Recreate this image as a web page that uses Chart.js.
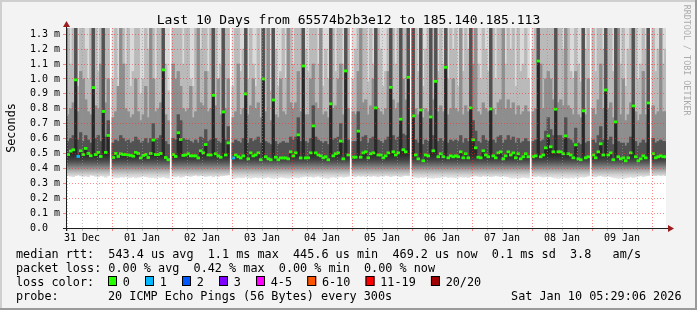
<!DOCTYPE html>
<html><head><meta charset="utf-8">
<script src="https://cdn.jsdelivr.net/npm/chart.js@4.4.1/dist/chart.umd.min.js"></script>
<style>html,body{margin:0;padding:0;background:#f3f3f3;overflow:hidden}canvas{display:block}</style>
</head><body>
<canvas id="c" width="697" height="310" style="width:697px;height:310px"></canvas>
<script>
// ---------- texts ----------
const chartTitle = 'Last 10 Days from 65574b2b3e12 to 185.140.185.113';
const yAxisTitle = 'Seconds';
const watermark = 'RRDTOOL / TOBI OETIKER';
const dayLabels = ['31 Dec','01 Jan','02 Jan','03 Jan','04 Jan','05 Jan','06 Jan','07 Jan','08 Jan','09 Jan'];
const yTickValues = [0,0.1,0.2,0.3,0.4,0.5,0.6,0.7,0.8,0.9,1.0,1.1,1.2,1.3];
const yTickLabels = ['0.0  ','0.1 m','0.2 m','0.3 m','0.4 m','0.5 m','0.6 m','0.7 m','0.8 m','0.9 m','1.0 m','1.1 m','1.2 m','1.3 m'];
const legendRttRow = 'median rtt:  543.4 us avg  1.1 ms max  445.6 us min  469.2 us now  0.1 ms sd  3.8   am/s';
const legendLossRow = 'packet loss: 0.00 % avg  0.42 % max  0.00 % min  0.00 % now';
const legendColorTitle = 'loss color:';
const lossLegendLabels = ['0','1','2','3','4-5','6-10','11-19','20/20'];
const lossLegendColors = ['#26ff00','#00b8ff','#0059ff','#7e00ff','#ff00ff','#ff5500','#ff0000','#a10000'];
const probeTitle = 'probe:';
const probeText = '20 ICMP Echo Pings (56 Bytes) every 300s';
const dateText = 'Sat Jan 10 05:29:06 2026';

// ---------- time axis (hours from left edge of the graph) ----------
const spanHours = 240;
const firstColumnHour = -0.1;   // centre of first (partial) hourly column
const firstMidnightHour = 18.4; // 01 Jan 00:00

// ---------- hourly columns (ms); null = no data ----------
const medianRtt = [0.757,
0.493,0.516,0.525,0.994,0.480,0.518,0.493,0.534,0.500,0.485,0.942,0.493,0.507,0.480,0.782,0.507,0.621,null,0.473,0.500,0.480,0.498,0.493,0.493,
0.490,0.487,0.482,0.507,0.500,0.470,0.487,0.493,0.473,0.500,0.590,0.493,0.493,0.500,1.061,0.473,0.458,null,0.493,0.480,0.639,0.594,0.487,0.490,
0.498,0.484,0.484,0.484,0.470,0.518,0.504,0.560,0.490,0.490,0.890,0.498,0.484,0.475,0.779,0.490,0.571,null,0.470,0.490,0.478,0.470,0.484,0.900,
0.464,0.504,0.484,0.490,0.504,0.458,1.000,0.478,0.464,0.458,0.859,0.475,0.458,0.470,0.470,0.470,0.464,0.511,0.484,0.504,0.625,0.470,1.087,0.470,
0.471,0.504,0.685,0.504,0.490,0.484,0.471,0.478,0.458,0.833,0.484,0.498,0.504,0.583,0.464,1.054,0.490,null,0.475,0.475,0.650,0.475,0.504,0.511,
0.471,0.498,0.504,0.806,0.490,0.490,0.471,0.484,0.504,0.944,0.511,0.490,0.504,0.730,0.525,0.511,1.011,null,0.752,0.490,0.464,0.792,0.451,0.490,
0.484,0.745,0.518,0.984,0.478,0.498,0.478,1.078,0.471,0.484,0.478,0.484,0.478,0.511,0.471,0.498,0.471,0.806,0.592,0.538,0.475,0.471,0.518,0.490,
0.478,0.799,0.484,0.471,0.504,0.511,0.464,0.484,0.511,0.490,0.504,0.471,0.498,0.464,0.478,0.498,0.478,null,0.478,0.484,1.120,0.478,0.490,0.538,
0.618,0.545,0.511,0.797,0.511,0.511,0.498,0.618,0.498,0.490,0.471,0.558,0.464,0.458,0.786,0.471,0.478,null,0.490,0.471,0.511,0.565,0.490,0.926,
0.490,0.504,0.458,0.712,0.478,0.464,0.471,0.451,0.471,0.504,0.819,0.478,0.451,0.464,0.484,0.471,0.839,null,0.498,0.471,0.478,0.484,0.478,0.478];

const lossCount = [0,
0,0,0,0,1,0,0,0,0,0,0,0,0,0,0,0,0,null,0,0,0,0,0,0,
0,0,0,0,0,0,0,0,0,0,0,0,0,0,0,0,0,null,0,0,0,0,0,0,
0,0,0,0,0,0,0,0,0,0,0,0,0,0,0,0,0,null,1,0,0,0,0,0,
0,0,0,0,0,0,0,0,0,0,0,0,0,0,0,0,0,0,0,0,0,0,0,0,
0,0,0,0,0,0,0,0,0,0,0,0,0,0,0,0,0,null,0,0,0,0,0,0,
0,0,0,0,0,0,0,0,0,0,0,0,0,0,0,0,0,null,0,0,0,0,0,0,
0,0,0,0,0,0,0,0,0,0,0,0,0,0,0,0,0,0,0,0,0,0,0,0,
0,0,0,0,0,0,0,0,0,0,0,0,0,0,0,0,0,null,0,0,0,0,0,0,
0,0,0,0,0,0,0,0,0,0,0,0,0,0,0,0,0,null,0,0,0,0,0,0,
0,0,0,0,0,0,0,0,0,0,0,0,0,0,0,0,0,null,0,0,0,0,0,0];

// lowest ping of each column (bottom edge of the smoke)
const pingMin = [0.350,
0.352,0.348,0.345,0.352,0.356,0.350,0.346,0.350,0.344,0.356,0.352,0.347,0.343,0.352,0.348,0.340,0.350,null,0.343,0.338,0.337,0.343,0.341,0.345,
0.340,0.338,0.344,0.336,0.340,0.343,0.349,0.345,0.341,0.337,0.340,0.334,0.342,0.339,0.345,0.337,0.333,null,0.347,0.343,0.350,0.341,0.345,0.352,
0.350,0.346,0.352,0.355,0.349,0.353,0.350,0.346,0.349,0.352,0.343,0.350,0.344,0.350,0.352,0.354,0.356,null,0.331,0.335,0.340,0.336,0.338,0.343,
0.337,0.333,0.338,0.341,0.336,0.340,0.334,0.338,0.343,0.336,0.330,0.334,0.338,0.342,0.339,0.336,0.333,0.338,0.344,0.340,0.336,0.341,0.344,0.348,
0.343,0.346,0.340,0.345,0.349,0.342,0.340,0.335,0.330,0.340,0.343,0.338,0.342,0.346,0.341,0.344,0.347,null,0.349,0.344,0.352,0.347,0.350,0.345,
0.352,0.346,0.351,0.348,0.343,0.350,0.347,0.353,0.350,0.345,0.349,0.352,0.348,0.344,0.350,0.353,0.351,null,0.344,0.341,0.336,0.342,0.339,0.344,
0.337,0.335,0.333,0.338,0.336,0.340,0.343,0.346,0.338,0.342,0.339,0.336,0.341,0.345,0.340,0.343,0.337,0.345,0.348,0.351,0.347,0.344,0.350,0.347,
0.349,0.344,0.347,0.351,0.348,0.344,0.350,0.346,0.343,0.336,0.334,0.338,0.333,0.337,0.342,0.338,0.335,null,0.347,0.344,0.350,0.346,0.341,0.345,
0.342,0.345,0.339,0.335,0.331,0.336,0.340,0.337,0.333,0.339,0.335,0.342,0.338,0.345,0.341,0.344,0.349,null,0.346,0.343,0.349,0.352,0.346,0.343,
0.348,0.344,0.339,0.336,0.331,0.334,0.329,0.336,0.340,0.344,0.338,0.342,0.347,0.351,0.346,0.349,0.352,null,0.354,0.351,0.356,0.352,0.355,0.352];

// upper smoke edges (ms)
const pingP70 = [1.50,
0.58,0.60,0.62,1.50,0.59,0.64,0.58,0.62,0.59,0.57,1.50,0.60,0.62,0.58,1.50,0.61,0.72,null,0.57,0.59,0.58,0.62,0.60,0.58,
0.59,0.57,0.58,0.61,0.59,0.57,0.58,0.60,0.57,0.60,0.70,0.59,0.60,0.62,1.50,0.58,0.56,null,0.60,0.59,0.76,0.72,0.60,0.59,
0.59,0.58,0.57,0.59,0.57,0.61,0.60,0.66,0.58,0.59,1.50,0.60,0.58,0.57,1.50,0.59,0.68,null,0.57,0.59,0.58,0.57,0.60,1.50,
0.57,0.60,0.58,0.59,0.61,0.57,1.50,0.58,0.57,0.56,1.50,0.58,0.56,0.57,0.58,0.57,0.57,0.61,0.59,0.61,0.74,0.58,1.50,0.58,
0.57,0.60,0.82,0.61,0.59,0.58,0.57,0.58,0.56,1.50,0.59,0.60,0.61,0.70,0.57,1.50,0.59,null,0.58,0.58,0.78,0.58,0.61,0.62,
0.57,0.60,0.61,1.50,0.59,0.58,0.57,0.59,0.61,1.50,0.62,0.59,0.61,1.50,0.63,0.62,1.50,null,1.50,0.59,0.57,1.50,0.56,0.59,
0.58,1.50,0.62,1.50,0.58,0.60,0.58,1.50,0.57,0.59,0.58,0.59,0.58,0.62,0.57,0.60,0.58,1.50,0.72,0.65,0.58,0.57,0.62,0.59,
0.58,1.50,0.59,0.57,0.61,0.62,0.57,0.59,0.62,0.59,0.61,0.57,0.60,0.57,0.58,0.60,0.58,null,0.58,0.59,1.50,0.58,0.59,0.65,
0.74,0.66,0.62,1.50,0.62,0.62,0.60,0.74,0.60,0.59,0.57,0.67,0.57,0.56,1.50,0.57,0.58,null,0.59,0.57,0.62,0.68,0.59,1.50,
0.59,0.61,0.56,1.50,0.58,0.57,0.57,0.55,0.57,0.61,1.50,0.58,0.55,0.57,0.59,0.57,1.50,null,0.60,0.57,0.58,0.59,0.58,0.58];

const pingP85 = [1.50,
0.76,0.80,0.84,1.50,0.78,1.05,1.00,0.86,0.78,0.76,1.50,0.82,0.80,1.10,1.50,0.84,1.00,null,0.74,0.78,0.95,1.50,1.10,0.80,
0.78,0.74,0.76,1.00,0.78,0.72,0.76,0.95,0.74,1.50,1.00,0.78,0.80,0.84,1.50,0.76,0.72,null,1.10,1.00,1.05,0.95,0.80,0.78,
0.80,0.95,0.74,0.78,1.50,0.84,0.82,1.05,0.78,0.80,1.50,0.82,1.00,0.76,1.50,0.80,1.00,null,0.74,0.78,1.10,0.76,0.80,1.50,
0.76,0.82,1.00,0.80,0.84,0.74,1.50,0.78,1.50,0.72,1.50,0.76,0.74,1.00,0.78,0.76,1.50,0.84,0.80,0.84,1.05,0.78,1.50,0.76,
0.76,1.00,1.10,0.84,0.80,1.50,0.76,0.78,0.74,1.50,0.80,0.82,1.00,1.10,0.76,1.50,0.80,null,0.78,0.76,1.05,1.50,0.84,0.86,
0.76,0.82,1.00,1.50,0.80,0.78,0.76,0.80,1.05,1.50,0.86,0.80,0.84,1.50,1.00,0.86,1.50,null,1.50,0.80,0.76,1.50,0.74,0.80,
0.78,1.50,0.86,1.50,0.78,0.82,0.78,1.50,0.76,0.80,1.00,0.80,0.78,1.50,0.76,0.82,0.78,1.50,1.10,1.50,0.78,0.76,0.84,0.80,
0.78,1.50,0.80,0.76,0.84,0.86,1.50,0.80,0.86,0.80,0.84,0.76,0.82,0.76,0.78,0.82,0.78,null,0.78,0.80,1.50,1.10,0.80,1.00,
1.05,1.00,0.86,1.50,0.84,0.86,0.82,1.50,0.82,0.80,0.76,1.05,0.76,0.74,1.50,0.76,1.00,null,0.80,0.76,0.86,1.10,0.80,1.50,
0.80,0.84,0.74,1.50,1.50,0.76,1.00,0.72,0.76,0.84,1.50,0.78,0.72,0.76,1.05,0.76,1.50,null,0.82,0.76,0.78,1.50,0.78,0.78];

const pingP95 = [1.50,
1.50,1.10,1.50,1.50,0.95,1.50,1.50,1.20,1.00,1.50,1.50,1.50,1.05,1.50,1.50,1.50,1.50,null,1.00,1.50,0.90,1.50,1.50,1.10,
1.50,0.95,1.05,1.50,1.50,0.90,1.00,1.50,1.20,1.50,1.50,1.00,1.50,1.50,1.50,1.10,0.92,null,1.50,1.50,1.50,1.50,1.10,1.50,
1.50,1.00,0.95,1.50,1.50,1.20,1.50,1.50,1.05,1.50,1.50,1.50,1.00,1.10,1.50,1.50,1.50,null,0.95,1.50,1.50,1.05,1.20,1.50,
1.00,1.50,1.10,0.95,1.50,1.00,1.50,1.50,1.50,0.92,1.50,1.20,0.95,1.05,1.50,1.00,1.50,1.50,1.10,1.50,1.50,1.50,1.50,1.20,
1.05,1.50,1.50,1.50,1.10,1.50,0.95,1.20,1.00,1.50,1.50,1.05,1.50,1.50,1.10,1.50,1.50,null,1.00,1.20,1.50,1.50,1.50,1.50,
0.98,1.50,1.10,1.50,1.50,1.20,0.95,1.05,1.50,1.50,1.50,1.10,1.50,1.50,1.50,1.50,1.50,null,1.50,1.50,1.05,1.50,0.95,1.20,
1.50,1.50,1.50,1.50,1.05,1.50,1.10,1.50,1.00,1.50,1.20,1.50,0.95,1.50,1.05,1.50,1.20,1.50,1.50,1.50,1.10,1.00,1.50,1.20,
1.05,1.50,1.50,1.00,1.50,1.50,1.50,1.10,1.50,1.20,1.50,0.95,1.50,1.05,1.10,1.50,1.00,null,1.20,1.50,1.50,1.50,1.50,1.50,
1.50,1.50,1.50,1.50,1.50,1.50,1.20,1.50,1.50,1.05,1.00,1.50,1.10,0.98,1.50,1.20,1.50,null,1.50,1.05,1.50,1.50,1.20,1.50,
1.50,1.50,1.05,1.50,1.50,1.10,1.50,0.95,1.20,1.50,1.50,1.50,1.00,1.10,1.50,1.20,1.50,null,1.50,1.05,1.20,1.50,1.10,1.20];

const pingMax = [1.80,
1.78,1.62,1.85,1.94,1.55,1.71,1.66,1.80,1.58,1.73,1.90,1.69,1.60,1.77,1.88,1.64,1.75,null,1.57,1.70,1.52,1.83,1.79,1.61,
1.66,1.54,1.59,1.72,1.68,1.50,1.56,1.74,1.61,1.81,1.70,1.58,1.73,1.69,1.98,1.60,1.49,null,1.84,1.77,1.72,1.69,1.63,1.75,
1.70,1.57,1.52,1.68,1.80,1.64,1.71,1.76,1.59,1.73,1.86,1.70,1.58,1.62,1.82,1.69,1.74,null,1.55,1.68,1.79,1.60,1.66,1.84,
1.58,1.72,1.63,1.55,1.76,1.57,1.95,1.70,1.81,1.52,1.89,1.65,1.54,1.60,1.74,1.58,1.78,1.71,1.64,1.75,1.80,1.69,2.02,1.66,
1.60,1.74,1.82,1.71,1.63,1.79,1.55,1.67,1.58,1.90,1.72,1.61,1.76,1.81,1.64,1.97,1.70,null,1.59,1.66,1.83,1.78,1.72,1.75,
1.56,1.73,1.65,1.87,1.70,1.67,1.54,1.60,1.77,1.92,1.74,1.63,1.75,1.86,1.79,1.72,1.95,null,1.84,1.70,1.61,1.88,1.55,1.66,
1.71,1.85,1.76,1.93,1.60,1.74,1.63,2.00,1.58,1.72,1.66,1.75,1.56,1.80,1.61,1.73,1.67,1.86,1.79,1.82,1.64,1.59,1.77,1.68,
1.62,1.84,1.75,1.57,1.78,1.74,1.80,1.64,1.76,1.69,1.73,1.54,1.77,1.60,1.63,1.79,1.58,null,1.67,1.72,2.05,1.81,1.74,1.80,
1.83,1.77,1.72,1.86,1.79,1.75,1.68,1.82,1.74,1.61,1.57,1.78,1.64,1.55,1.85,1.69,1.76,null,1.73,1.60,1.78,1.81,1.67,1.93,
1.72,1.75,1.59,1.84,1.80,1.63,1.74,1.53,1.68,1.76,1.88,1.73,1.56,1.62,1.75,1.69,1.87,null,1.80,1.60,1.68,1.79,1.63,1.70];

// ---------- styling ----------
const FONT = 'DejaVu Sans Mono';
const AXIS_FONT = 10, LEGEND_FONT = 11.8, TITLE_FONT = 13;
const RED_GRID = 'rgba(255,40,40,0.55)';
const GRAY_GRID = 'rgba(150,150,150,0.6)';
const GRID_DASH = [1, 2];
const medianHalfHeight = 0.006;

const liveIdx = medianRtt.map((m, i) => m === null ? -1 : i).filter(i => i >= 0);
const hourOf = i => firstColumnHour + i;
const band = (lo, hi) => liveIdx.map(i => ({x: hourOf(i), y: [lo[i], hi[i]]}));
const lossBucket = n => n <= 3 ? n : n <= 5 ? 4 : n <= 10 ? 5 : n < 20 ? 6 : 7;

const gridHours = [];
for (let h = firstMidnightHour - 18; h <= spanHours; h += 6) if (h >= 0) gridHours.push(+h.toFixed(2));
function phase(v) { return (((v - firstMidnightHour) % 24) + 24) % 24; }
const isMidnight = v => { const p = phase(v); return p < 1e-6 || Math.abs(p - 24) < 1e-6; };
function dayLabelFor(v) {
  const k = Math.round((v - firstMidnightHour - 12) / 24);
  if (Math.abs(v - (firstMidnightHour + 12 + 24 * k)) < 1e-6) return dayLabels[k + 1] || '';
  return '';
}

let gradCache = null;
function lowerSmoke(ctx) {
  const chart = ctx.chart;
  if (!chart.chartArea) return '#444';
  const y = chart.scales.y;
  const p0 = y.getPixelForValue(0.33), p1 = y.getPixelForValue(0.50);
  const key = p0 + ':' + p1;
  if (gradCache && gradCache.k === key) return gradCache.g;
  const g = chart.ctx.createLinearGradient(0, p0, 0, p1);
  g.addColorStop(0.00, '#ebebeb');
  g.addColorStop(0.15, '#d4d4d4');
  g.addColorStop(0.29, '#b4b4b4');
  g.addColorStop(0.41, '#939393');
  g.addColorStop(0.53, '#727272');
  g.addColorStop(0.65, '#555555');
  g.addColorStop(0.76, '#404040');
  g.addColorStop(0.88, '#333333');
  g.addColorStop(1.00, '#282828');
  gradCache = {k: key, g};
  return g;
}

// Chart.js paints the first dataset on top, so the list runs from the top layer down.
const barBase = {type: 'bar', grouped: false, categoryPercentage: 1, barPercentage: 1, borderWidth: 0, inflateAmount: 0.4, clip: 0};
const datasets = [
  Object.assign({}, barBase, {label: 'median', inflateAmount: 0.5,
    data: liveIdx.map(i => ({x: hourOf(i), y: [medianRtt[i] - medianHalfHeight, medianRtt[i] + medianHalfHeight]})),
    backgroundColor: c => lossLegendColors[lossBucket(lossCount[liveIdx[c.dataIndex]] || 0)]}),
  Object.assign({}, barBase, {label: 'lower smoke', data: band(pingMin, medianRtt), backgroundColor: lowerSmoke}),
  Object.assign({}, barBase, {label: 'p70', data: band(medianRtt, pingP70), backgroundColor: '#525252'}),
  Object.assign({}, barBase, {label: 'p85', data: band(medianRtt, pingP85), backgroundColor: '#8e8e8e'}),
  Object.assign({}, barBase, {label: 'p95', data: band(medianRtt, pingP95), backgroundColor: '#bababa'}),
  Object.assign({}, barBase, {label: 'max', data: band(medianRtt, pingMax), backgroundColor: '#dadada'})
];

const framePlugin = {
  id: 'frame',
  beforeDraw(chart) {
    const {ctx, chartArea: a, width: W, height: H} = chart;
    ctx.save();
    ctx.fillStyle = '#f3f3f3'; ctx.fillRect(0, 0, W, H);
    ctx.fillStyle = '#cfcfcf'; ctx.fillRect(0, 0, W, 2); ctx.fillRect(0, 0, 2, H);
    ctx.fillStyle = '#9a9a9a'; ctx.fillRect(0, H - 2, W, 2); ctx.fillRect(W - 2, 0, 2, H);
    ctx.fillStyle = '#ffffff'; ctx.fillRect(a.left, a.top, a.right - a.left, a.bottom - a.top);
    ctx.restore();
  },
  afterDraw(chart) {
    const {ctx, chartArea: a, width: W} = chart;
    ctx.save();
    const x0 = a.left + 0.5, y0 = a.bottom + 0.5;
    ctx.strokeStyle = '#1e1e1e'; ctx.lineWidth = 1;
    ctx.beginPath();
    ctx.moveTo(a.left - 3, y0); ctx.lineTo(a.right + 2, y0);
    ctx.moveTo(x0, a.bottom + 3); ctx.lineTo(x0, a.top - 2);
    ctx.stroke();
    ctx.fillStyle = '#9b1c1c';
    ctx.beginPath(); ctx.moveTo(a.right + 8, y0); ctx.lineTo(a.right + 2, y0 - 3.5); ctx.lineTo(a.right + 2, y0 + 3.5); ctx.closePath(); ctx.fill();
    ctx.beginPath(); ctx.moveTo(x0, a.top - 7); ctx.lineTo(x0 - 3.5, a.top - 1); ctx.lineTo(x0 + 3.5, a.top - 1); ctx.closePath(); ctx.fill();

    ctx.fillStyle = '#000';
    ctx.font = TITLE_FONT + 'px "' + FONT + '"';
    ctx.textAlign = 'center'; ctx.textBaseline = 'alphabetic';
    ctx.fillText(chartTitle, W / 2, 24);

    ctx.save();
    ctx.font = LEGEND_FONT + 'px "' + FONT + '"';
    ctx.translate(15, (a.top + a.bottom) / 2);
    ctx.rotate(-Math.PI / 2);
    ctx.textAlign = 'center';
    ctx.fillText(yAxisTitle, 0, 0);
    ctx.restore();

    ctx.save();
    ctx.font = '8.4px "' + FONT + '"';
    ctx.fillStyle = '#ababab';
    ctx.translate(684.3, 4.7);
    ctx.rotate(Math.PI / 2);
    ctx.textAlign = 'left';
    ctx.fillText(watermark, 0, 0);
    ctx.restore();

    ctx.font = LEGEND_FONT + 'px "' + FONT + '"';
    ctx.textAlign = 'left';
    ctx.fillStyle = '#000';
    ctx.fillText(legendRttRow, 16, 258);
    ctx.fillText(legendLossRow, 16, 272);
    ctx.fillText(legendColorTitle, 16, 286);
    let bx = 108;
    for (let k = 0; k < lossLegendLabels.length; k++) {
      ctx.fillStyle = lossLegendColors[k];
      ctx.fillRect(bx, 276, 9, 10);
      ctx.strokeStyle = '#000';
      ctx.strokeRect(bx + 0.5, 276.5, 8, 9);
      ctx.fillStyle = '#000';
      const lx = bx + 14.7;
      ctx.fillText(lossLegendLabels[k], lx, 286);
      bx = lx + ctx.measureText(lossLegendLabels[k]).width + 15.2;
    }
    ctx.fillText(probeTitle, 16, 300);
    ctx.fillText(probeText, 108, 300);
    ctx.textAlign = 'right';
    ctx.fillText(dateText, 681.5, 300);
    ctx.restore();
  }
};

new Chart(document.getElementById('c'), {
  type: 'bar',
  data: {datasets},
  options: {
    responsive: false, animation: false, devicePixelRatio: 1,
    layout: {padding: {left: 0, top: 28, right: 31, bottom: 0}},
    plugins: {legend: {display: false}, tooltip: {enabled: false}, title: {display: false}},
    scales: {
      x: {
        type: 'linear', min: 0, max: spanHours, offset: false,
        afterBuildTicks: s => { s.ticks = gridHours.map(v => ({value: v})); },
        afterFit: s => { s.height = 82; },
        ticks: {autoSkip: false, maxRotation: 0, minRotation: 0, padding: 1, color: '#000',
          font: {family: FONT, size: AXIS_FONT}, callback: v => dayLabelFor(v)},
        grid: {z: 1, offset: false, lineWidth: 1, tickLength: 3, tickBorderDash: [],
          color: c => isMidnight(c.tick.value) ? RED_GRID : GRAY_GRID,
          tickColor: c => isMidnight(c.tick.value) ? RED_GRID : GRAY_GRID},
        border: {display: false, dash: GRID_DASH}
      },
      y: {
        type: 'linear', min: 0, max: 1.342,
        afterBuildTicks: s => { s.ticks = yTickValues.map(v => ({value: v})); },
        afterFit: s => { s.width = 66; },
        ticks: {autoSkip: false, padding: 3, color: '#000', font: {family: FONT, size: AXIS_FONT},
          callback: (v, i) => yTickLabels[i]},
        grid: {z: 1, lineWidth: 1, tickLength: 3, tickBorderDash: [], color: RED_GRID, tickColor: RED_GRID},
        border: {display: false, dash: GRID_DASH}
      }
    }
  },
  plugins: [framePlugin]
});
</script>
</body></html>
